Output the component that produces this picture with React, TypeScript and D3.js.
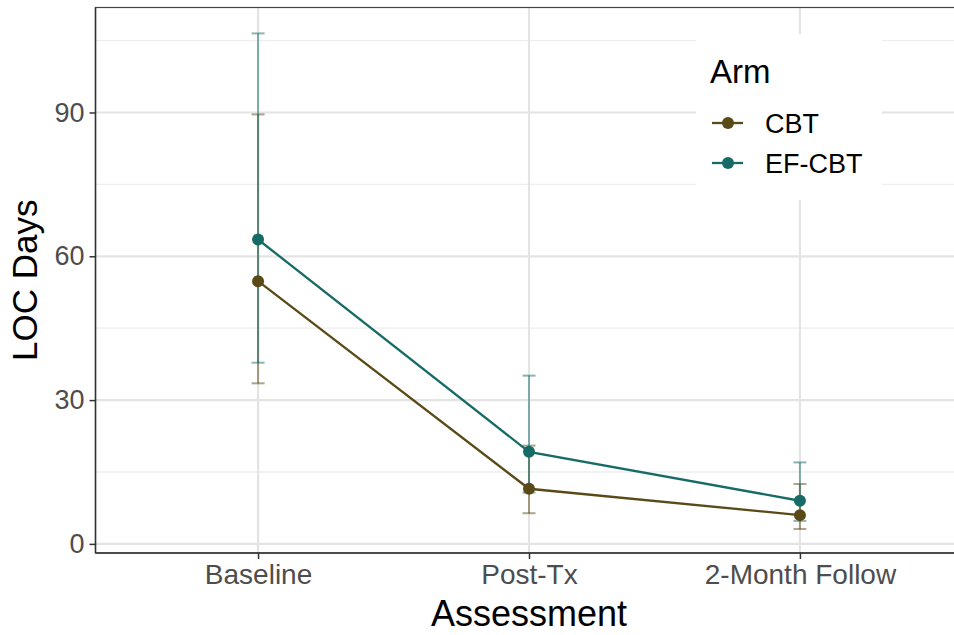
import React, { useEffect, useRef } from 'react';
import * as d3 from 'd3';

// assessments on the x axis
const assessments = ['Baseline', 'Post-Tx', '2-Month Follow'];
const arms = ['CBT', 'EF-CBT'];

// mean LOC days and error bar limits
const cbtMean = [54.8, 11.5, 6.0];
const cbtLow = [33.5, 6.4, 3.1];
const cbtHigh = [89.6, 20.5, 12.5];

const efMean = [63.5, 19.2, 9.0];
const efLow = [37.8, 10.7, 4.8];
const efHigh = [106.5, 35.1, 17.0];

const yTicks = [0, 30, 60, 90];
const yMinor = [15, 45, 75, 105];

const armColors = ['#5a4a17', '#176b66'];

const W = 954, H = 635;
const FONT = '"Liberation Sans", Arial, Helvetica, sans-serif';

export default function App() {
  const ref = useRef<SVGSVGElement>(null);

  useEffect(() => {
    const svg = d3.select(ref.current);
    svg.selectAll('*').remove();

    const left = 95.5, right = 962.5, top = 7.5, bottom = 553;

    const x = d3.scalePoint<string>().domain(assessments).range([left, right]).padding(0.6);
    const y = d3.scaleLinear().domain([-1.9, 111.9]).range([bottom, top]);

    svg.append('rect').attr('width', W).attr('height', H).attr('fill', 'white');

    // grid
    const grid = svg.append('g');
    grid.selectAll('.minor').data(yMinor).enter().append('line')
      .attr('x1', left).attr('x2', right)
      .attr('y1', d => y(d)).attr('y2', d => y(d))
      .attr('stroke', '#eeeeee').attr('stroke-width', 1.3);
    grid.selectAll('.major').data(yTicks).enter().append('line')
      .attr('x1', left).attr('x2', right)
      .attr('y1', d => y(d)).attr('y2', d => y(d))
      .attr('stroke', '#e4e4e4').attr('stroke-width', 2.2);
    grid.selectAll('.vert').data(assessments).enter().append('line')
      .attr('x1', d => x(d)!).attr('x2', d => x(d)!)
      .attr('y1', top).attr('y2', bottom)
      .attr('stroke', '#e4e4e4').attr('stroke-width', 2.2);

    const series = [
      { name: arms[0], mean: cbtMean, low: cbtLow, high: cbtHigh, color: armColors[0] },
      { name: arms[1], mean: efMean, low: efLow, high: efHigh, color: armColors[1] },
    ];

    // error bars
    series.forEach(s => {
      const g = svg.append('g').attr('stroke', s.color).attr('stroke-opacity', 0.5).attr('stroke-width', 2);
      assessments.forEach((a, i) => {
        const cx = x(a)!;
        g.append('line').attr('x1', cx).attr('x2', cx).attr('y1', y(s.low[i])).attr('y2', y(s.high[i]));
        g.append('line').attr('x1', cx - 6.5).attr('x2', cx + 6.5).attr('y1', y(s.low[i])).attr('y2', y(s.low[i]));
        g.append('line').attr('x1', cx - 6.5).attr('x2', cx + 6.5).attr('y1', y(s.high[i])).attr('y2', y(s.high[i]));
      });
    });

    // lines and points
    const line = d3.line<number>().x((d, i) => x(assessments[i])!).y(d => y(d));
    series.forEach(s => {
      svg.append('path').attr('d', line(s.mean)).attr('fill', 'none')
        .attr('stroke', s.color).attr('stroke-width', 2.3);
      svg.selectAll(null).data(s.mean).enter().append('circle')
        .attr('cx', (d, i) => x(assessments[i])!).attr('cy', d => y(d))
        .attr('r', 6).attr('fill', s.color);
    });

    // panel border
    svg.append('rect').attr('x', left).attr('y', top)
      .attr('width', right - left).attr('height', bottom - top)
      .attr('fill', 'none').attr('stroke', '#444').attr('stroke-width', 1.2);
    svg.append('line').attr('x1', left).attr('x2', left).attr('y1', top).attr('y2', bottom)
      .attr('stroke', '#333').attr('stroke-width', 1.5);
    svg.append('line').attr('x1', left).attr('x2', right).attr('y1', bottom).attr('y2', bottom)
      .attr('stroke', '#333').attr('stroke-width', 1.5);

    // y axis
    const yAxis = svg.append('g').attr('transform', `translate(${left},0)`)
      .call(d3.axisLeft(y).tickValues(yTicks).tickSize(6).tickPadding(5));
    yAxis.select('.domain').remove();
    yAxis.selectAll('line').attr('stroke', '#333').attr('stroke-width', 1.5);
    yAxis.selectAll('text').attr('font-family', FONT).attr('font-size', 27).attr('fill', '#4d4d4d');

    // x axis
    const xAxis = svg.append('g').attr('transform', `translate(0,${bottom})`)
      .call(d3.axisBottom(x).tickSize(6).tickPadding(5));
    xAxis.select('.domain').remove();
    xAxis.selectAll('line').attr('stroke', '#333').attr('stroke-width', 1.5);
    xAxis.selectAll('text').attr('font-family', FONT).attr('font-size', 28).attr('fill', '#4d4d4d');

    // axis titles
    svg.append('text').attr('x', (left + right) / 2).attr('y', 626)
      .attr('text-anchor', 'middle').attr('font-family', FONT).attr('font-size', 36)
      .attr('fill', 'black').text('Assessment');
    svg.append('text').attr('transform', `translate(37,${(top + bottom) / 2}) rotate(-90)`)
      .attr('text-anchor', 'middle').attr('font-family', FONT).attr('font-size', 35)
      .attr('fill', 'black').text('LOC Days');

    // legend
    const lg = svg.append('g');
    lg.append('rect').attr('x', 696).attr('y', 34).attr('width', 186).attr('height', 166).attr('fill', 'white');
    lg.append('text').attr('x', 710).attr('y', 83).attr('font-family', FONT).attr('font-size', 33)
      .attr('fill', 'black').text('Arm');
    series.forEach((s, i) => {
      const cy = 123 + i * 40;
      lg.append('line').attr('x1', 712).attr('x2', 743).attr('y1', cy).attr('y2', cy)
        .attr('stroke', s.color).attr('stroke-width', 2.3);
      lg.append('circle').attr('cx', 728).attr('cy', cy).attr('r', 6).attr('fill', s.color);
      lg.append('text').attr('x', 765).attr('y', cy + 10).attr('font-family', FONT).attr('font-size', 27)
        .attr('fill', 'black').text(s.name);
    });
  }, []);

  return (
    <svg ref={ref} width={W} height={H} style={{ position: 'absolute', left: 0, top: 0 }} />
  );
}
